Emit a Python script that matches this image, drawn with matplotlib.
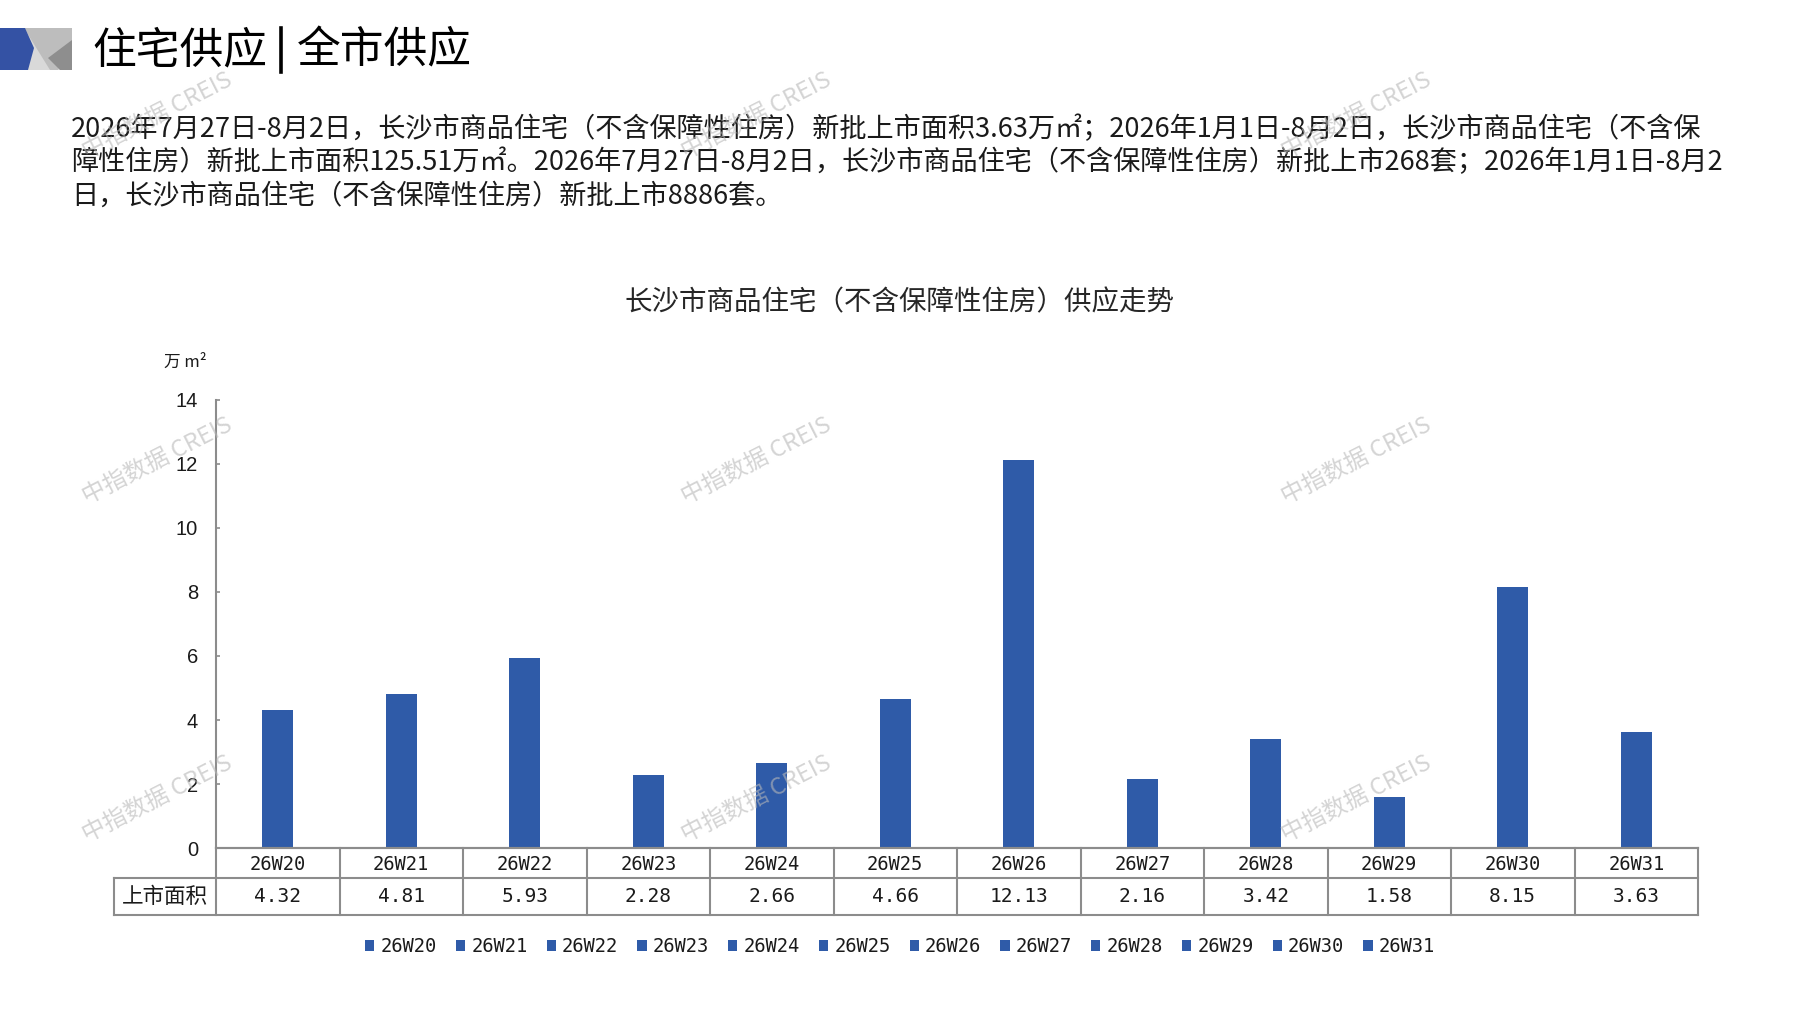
import matplotlib
matplotlib.use("Agg")
import matplotlib.pyplot as plt
from matplotlib.patches import Polygon
from matplotlib.font_manager import FontProperties

plt.rcParams['font.family'] = ['Noto Sans CJK SC', 'DejaVu Sans']

# ---------------- data ----------------
weeks = ['26W20', '26W21', '26W22', '26W23', '26W24', '26W25',
         '26W26', '26W27', '26W28', '26W29', '26W30', '26W31']
area = [4.32, 4.81, 5.93, 2.28, 2.66, 4.66, 12.13, 2.16, 3.42, 1.58, 8.15, 3.63]
yticks = [0, 2, 4, 6, 8, 10, 12, 14]
row_label = '上市面积'
unit_label = '万 m²'
chart_title = '长沙市商品住宅（不含保障性住房）供应走势'
title_left = '住宅供应'
title_right = '全市供应'
para_lines = [
    '2026年7月27日-8月2日，长沙市商品住宅（不含保障性住房）新批上市面积3.63万㎡；2026年1月1日-8月2日，长沙市商品住宅（不含保',
    '障性住房）新批上市面积125.51万㎡。2026年7月27日-8月2日，长沙市商品住宅（不含保障性住房）新批上市268套；2026年1月1日-8月2',
    '日，长沙市商品住宅（不含保障性住房）新批上市8886套。',
]
watermark = '中指数据 CREIS'

# ---------------- style ----------------
W, H = 1797, 1010
BAR = '#2F5BA8'
GRID = '#8c8c8c'
TXT = '#1a1a1a'
MONO = ['DejaVu Sans Mono', 'Noto Sans CJK SC']

fig = plt.figure(figsize=(W / 100, H / 100), dpi=100)
fig.patch.set_facecolor('white')

# main axes (pixel layout)
ax_l, ax_r, ax_t, ax_b = 216, 1698, 400, 848
ax = fig.add_axes([ax_l / W, 1 - ax_b / H, (ax_r - ax_l) / W, (ax_b - ax_t) / H])
n = len(weeks)
for i, (wk, v) in enumerate(zip(weeks, area)):
    ax.bar(i, v, width=0.25, color=BAR, label=wk, zorder=2)
ax.set_xlim(-0.5, n - 0.5)
ax.set_ylim(yticks[0], yticks[-1])
ax.set_yticks(yticks)
ax.set_yticklabels([str(t) for t in yticks], fontfamily='Liberation Sans', fontsize=14.5, color=TXT)
ax.set_xticks([])
for s in ['top', 'right']:
    ax.spines[s].set_visible(False)
for s in ['left', 'bottom']:
    ax.spines[s].set_color(GRID)
    ax.spines[s].set_linewidth(1.5)
ax.tick_params(axis='y', direction='in', length=3, width=1.2, color=GRID, pad=13)

# table axes under the chart
tb_l, tb_b = 114, 915
col_w = (ax_r - ax_l) / n
lab_w = (ax_l - tb_l) / col_w
tb = fig.add_axes([tb_l / W, 1 - tb_b / H, (ax_r - tb_l) / W, (tb_b - ax_b) / H])
tb.set_xlim(-0.5 - lab_w, n - 0.5)
row_split, row_end = 30, 67
tb.set_ylim(row_end, 0)
tb.axis('off')
xl = -0.5 - lab_w
lkw = dict(color=GRID, lw=1.5, clip_on=False, solid_capstyle='projecting')
tb.plot([-0.5, n - 0.5], [0, 0], **lkw)
tb.plot([xl, n - 0.5], [row_split, row_split], **lkw)
tb.plot([xl, n - 0.5], [row_end, row_end], **lkw)
tb.plot([xl, xl], [row_split, row_end], **lkw)
for k in range(n + 1):
    tb.plot([k - 0.5, k - 0.5], [0, row_end], **lkw)
for i, (wk, v) in enumerate(zip(weeks, area)):
    tb.text(i, 16.5, wk, ha='center', va='center', fontsize=13.5, family=MONO, color=TXT)
    tb.text(i, 48.7, f'{v:.2f}', ha='center', va='center', fontsize=14, family=MONO, color=TXT)
tb.text(xl / 2 - 0.25, 48.7, row_label, ha='center', va='center', fontsize=15.5, color=TXT)

# legend
fig.legend(loc='center', bbox_to_anchor=(900 / W, 1 - 946.5 / H), ncol=n, frameon=False,
           prop=FontProperties(family=MONO, size=13.5), handlelength=0.5, handleheight=0.5,
           handletextpad=0.32, columnspacing=1.02, borderpad=0, borderaxespad=0,
           labelcolor=TXT)

# overlay in pixel coordinates
ov = fig.add_axes([0, 0, 1, 1])
ov.set_xlim(0, W)
ov.set_ylim(H, 0)
ov.axis('off')

# header icon
ov.add_patch(Polygon([(0, 28), (72, 28), (72, 70), (0, 70)], closed=True, color='#d9d9d9', lw=0))
ov.add_patch(Polygon([(24, 28), (72, 28), (72, 40), (58, 70), (50, 70)], closed=True, color='#bdbdbd', lw=0))
ov.add_patch(Polygon([(72, 40), (72, 70), (60, 70), (48, 58)], closed=True, color='#8e8e8e', lw=0))
ov.add_patch(Polygon([(0, 28), (25, 28), (34, 48), (28, 70), (0, 70)], closed=True, color='#3452A4', lw=0))

# main title
ov.text(92, 50, title_left, fontsize=31.5, va='center', ha='left', color='black')
ov.plot([281, 281], [28, 72], color='black', lw=2.6)
ov.text(297, 50, title_right, fontsize=31.5, va='center', ha='left', color='black')

# paragraph, fitted to the reference line width
renderer = fig.canvas.get_renderer()
base = 18
tmp = ov.text(71, 162.7, para_lines[1], fontsize=base)
wpx = tmp.get_window_extent(renderer=renderer).width
tmp.remove()
fs = base * (1722 - 71) / wpx
for y, line in zip([129.5, 162.7, 196], para_lines):
    ov.text(71, y, line, fontsize=fs, va='center', ha='left', color=TXT)

# chart title and unit
ov.text(900, 303, chart_title, fontsize=19.8, ha='center', va='center', color='#262626')
ov.text(185, 362, unit_label, fontsize=12, ha='center', va='center', color=TXT)

# watermarks
for cy in [116, 461, 799]:
    for cx in [157, 756, 1356]:
        ov.text(cx, cy, watermark, fontsize=17, rotation=27, rotation_mode='anchor',
                ha='center', va='center', color='#b8b8b8', alpha=0.6, zorder=100)

fig.savefig('out.png', dpi=100, facecolor='white')
